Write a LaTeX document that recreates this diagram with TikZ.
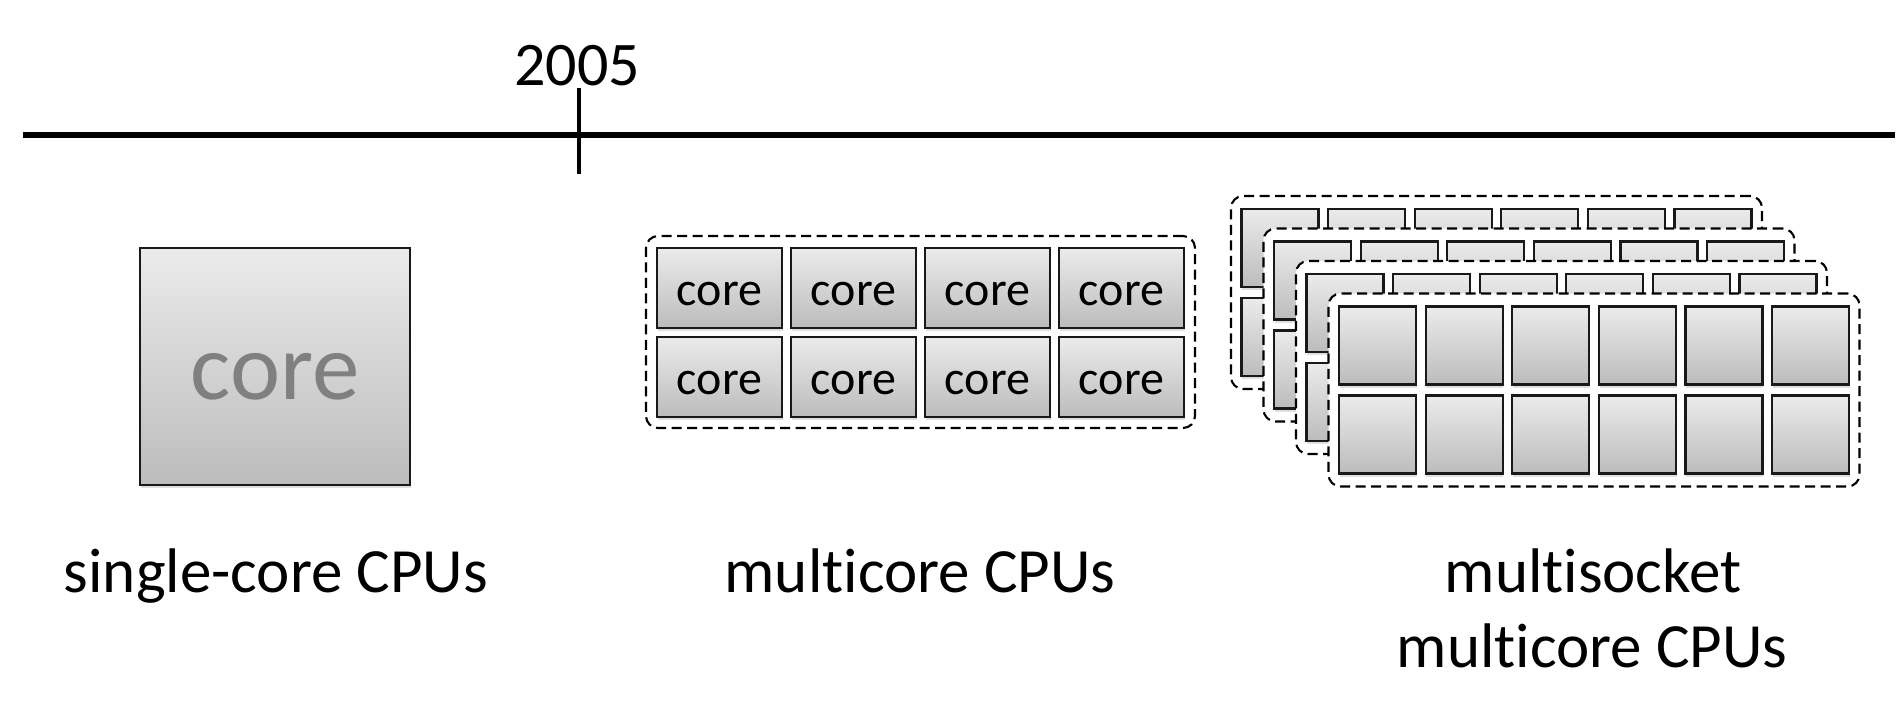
\documentclass[tikz,border=0pt]{standalone}
\usepackage{fontspec}
\setmainfont{Carlito}[Ligatures={NoCommon}]
\usetikzlibrary{shadows}
\definecolor{ctop}{HTML}{EBEBEB}
\definecolor{cbot}{HTML}{BCBCBC}
\definecolor{coretext}{HTML}{808080}
\begin{document}
\begin{tikzpicture}[x=1pt,y=-1pt,
  corebox/.style={draw=black!90, line width=2.2pt, top color=ctop, bottom color=cbot,
    inner sep=0pt, outer sep=0pt, anchor=north west,
    drop shadow={shadow xshift=0.8pt, shadow yshift=-3pt, opacity=0.25}},
  board/.style={draw=black, line width=2.1pt, dash pattern=on 10pt off 5.5pt,
    rounded corners=12pt, fill=white, inner sep=0pt, outer sep=0pt, anchor=north west},
  labeltext/.style={font=\fontsize{63}{76}\selectfont, anchor=base, inner sep=0pt},
  smallcore/.style={corebox, minimum width=125pt, minimum height=80pt,
    font=\fontsize{48}{50}\selectfont},
  tinycore/.style={corebox, minimum width=77pt, minimum height=78pt}
]
\useasboundingbox (0,0) rectangle (1902,704);

% timeline
\coordinate (tl0) at (23,135);
\coordinate (tl1) at (1895,135);
\coordinate (tk0) at (579,88);
\coordinate (tk1) at (579,174);
\draw[line width=5.5pt] (tl0) -- (tl1);
\draw[line width=3.5pt] (tk0) -- (tk1);
\node[font=\fontsize{62}{70}\selectfont, anchor=base, inner sep=0pt] (year) at (577,85) {2005};

% single core
\node[corebox, minimum width=270pt, minimum height=237pt,
  font=\fontsize{95}{100}\selectfont, text=coretext, line width=1.8pt] (single) at (140,248) {\smash{\raisebox{-33pt}{core}}};
\node[labeltext] (lsingle) at (276,592) {single-core CPUs};

% multicore
\node[board, minimum width=549pt, minimum height=192pt] (mcboard) at (646,236) {};
\foreach \i in {0,...,3}{
  \foreach \j in {0,1}{
    \node[smallcore] (mc-\i-\j) at ({657+134*\i},{248+89*\j}) {\smash{\raisebox{-17pt}{core}}};
  }
}
\node[labeltext] (lmulti) at (920,592) {multicore CPUs};

% multisocket
\foreach \k in {0,...,3}{
  \node[board, minimum width=531pt, minimum height=193pt] (sock-\k) at ({1231+32.5*\k},{196+32.5*\k}) {};
  \foreach \i in {0,...,5}{
    \foreach \j in {0,1}{
      \node[tinycore] (sc-\k-\i-\j) at ({1241.5+32.5*\k+86.6*\i},{209+32.5*\k+89*\j}) {};
    }
  }
}
\node[labeltext] (lsock1) at (1593,592) {multisocket};
\node[labeltext] (lsock2) at (1592,667) {multicore CPUs};
\end{tikzpicture}
\end{document}
